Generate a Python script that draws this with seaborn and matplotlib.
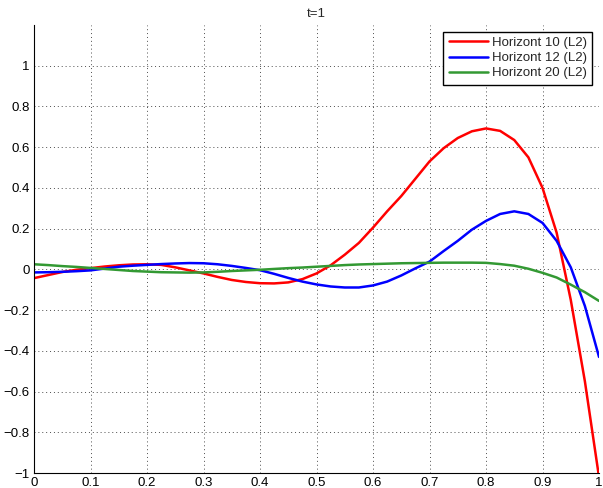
import numpy as np
import pandas as pd
import matplotlib
matplotlib.use("Agg")
import matplotlib.pyplot as plt
import seaborn as sns

# Sample positions
x = [round(0.025 * i, 3) for i in range(41)]

horizont_10 = [
    -0.043, -0.028, -0.013, -0.002, 0.006, 0.014, 0.020, 0.024, 0.025, 0.022,
    0.010, -0.005, -0.020, -0.037, -0.052, -0.062, -0.068, -0.069, -0.064, -0.048,
    -0.020, 0.020, 0.072, 0.130, 0.205, 0.285, 0.360, 0.445, 0.530, 0.595,
    0.645, 0.678, 0.692, 0.680, 0.635, 0.550, 0.400, 0.180, -0.150, -0.550,
    -1.020,
]
horizont_12 = [
    -0.015, -0.014, -0.012, -0.009, -0.005, 0.004, 0.013, 0.018, 0.022, 0.026,
    0.029, 0.031, 0.030, 0.025, 0.017, 0.007, -0.004, -0.022, -0.042, -0.060,
    -0.074, -0.084, -0.089, -0.089, -0.079, -0.060, -0.030, 0.005, 0.038, 0.090,
    0.140, 0.195, 0.238, 0.272, 0.285, 0.272, 0.228, 0.140, 0.010, -0.180,
    -0.430,
]
horizont_20 = [
    0.025, 0.021, 0.016, 0.012, 0.007, 0.002, -0.003, -0.008, -0.011, -0.014,
    -0.015, -0.016, -0.015, -0.012, -0.008, -0.005, -0.002, 0.002, 0.006, 0.009,
    0.013, 0.017, 0.021, 0.024, 0.026, 0.028, 0.030, 0.031, 0.032, 0.033,
    0.033, 0.033, 0.032, 0.026, 0.018, 0.003, -0.017, -0.040, -0.075, -0.112,
    -0.155,
]
labels = ["Horizont 10 (L2)", "Horizont 12 (L2)", "Horizont 20 (L2)"]
colors = ["#ff0000", "#0000ff", "#339933"]

x_ticks = [round(0.1 * i, 1) for i in range(11)]
y_ticks = [round(-1 + 0.2 * i, 1) for i in range(11)]
x_tick_labels = ["0", "0.1", "0.2", "0.3", "0.4", "0.5", "0.6", "0.7", "0.8", "0.9", "1"]
y_tick_labels = ["\u22121", "\u22120.8", "\u22120.6", "\u22120.4", "\u22120.2", "0",
                 "0.2", "0.4", "0.6", "0.8", "1"]

frames = []
for name, vals in zip(labels, [horizont_10, horizont_12, horizont_20]):
    frames.append(pd.DataFrame({"x": x, "y": vals, "series": name}))
df = pd.concat(frames, ignore_index=True)

sns.set_style("white")
plt.rcParams["font.family"] = ["Liberation Sans", "DejaVu Sans"]

fig = plt.figure(figsize=(6.03, 4.88), dpi=100)
ax = fig.add_axes([0.0564, 0.0307, 0.9370, 0.9181])

sns.lineplot(data=df, x="x", y="y", hue="series", palette=colors,
             linewidth=1.8, ax=ax, sort=False, estimator=None)

ax.set_xlim(0, 1)
ax.set_ylim(-1, 1.2)
ax.set_xticks(x_ticks)
ax.set_xticklabels(x_tick_labels)
ax.set_yticks(y_ticks)
ax.set_yticklabels(y_tick_labels)
ax.tick_params(direction="in", length=4, width=0.8, labelsize=9.5,
               colors="black", pad=3)
ax.set_xlabel("")
ax.set_ylabel("")
ax.set_title("t=1", fontsize=9.5, pad=6)

ax.grid(True, linestyle=(0, (1, 3)), linewidth=0.7, color="0.3")
for side in ["top", "right"]:
    ax.spines[side].set_visible(False)
for side in ["left", "bottom"]:
    ax.spines[side].set_color("black")
    ax.spines[side].set_linewidth(0.8)

leg = ax.legend(loc="upper right", fontsize=9.5, frameon=True, fancybox=False,
                edgecolor="black", framealpha=1, borderpad=0.4,
                handlelength=3.0, handletextpad=0.3, labelspacing=0.22,
                borderaxespad=0.5)
leg.get_frame().set_linewidth(1.0)

fig.savefig("out.png", dpi=100)
